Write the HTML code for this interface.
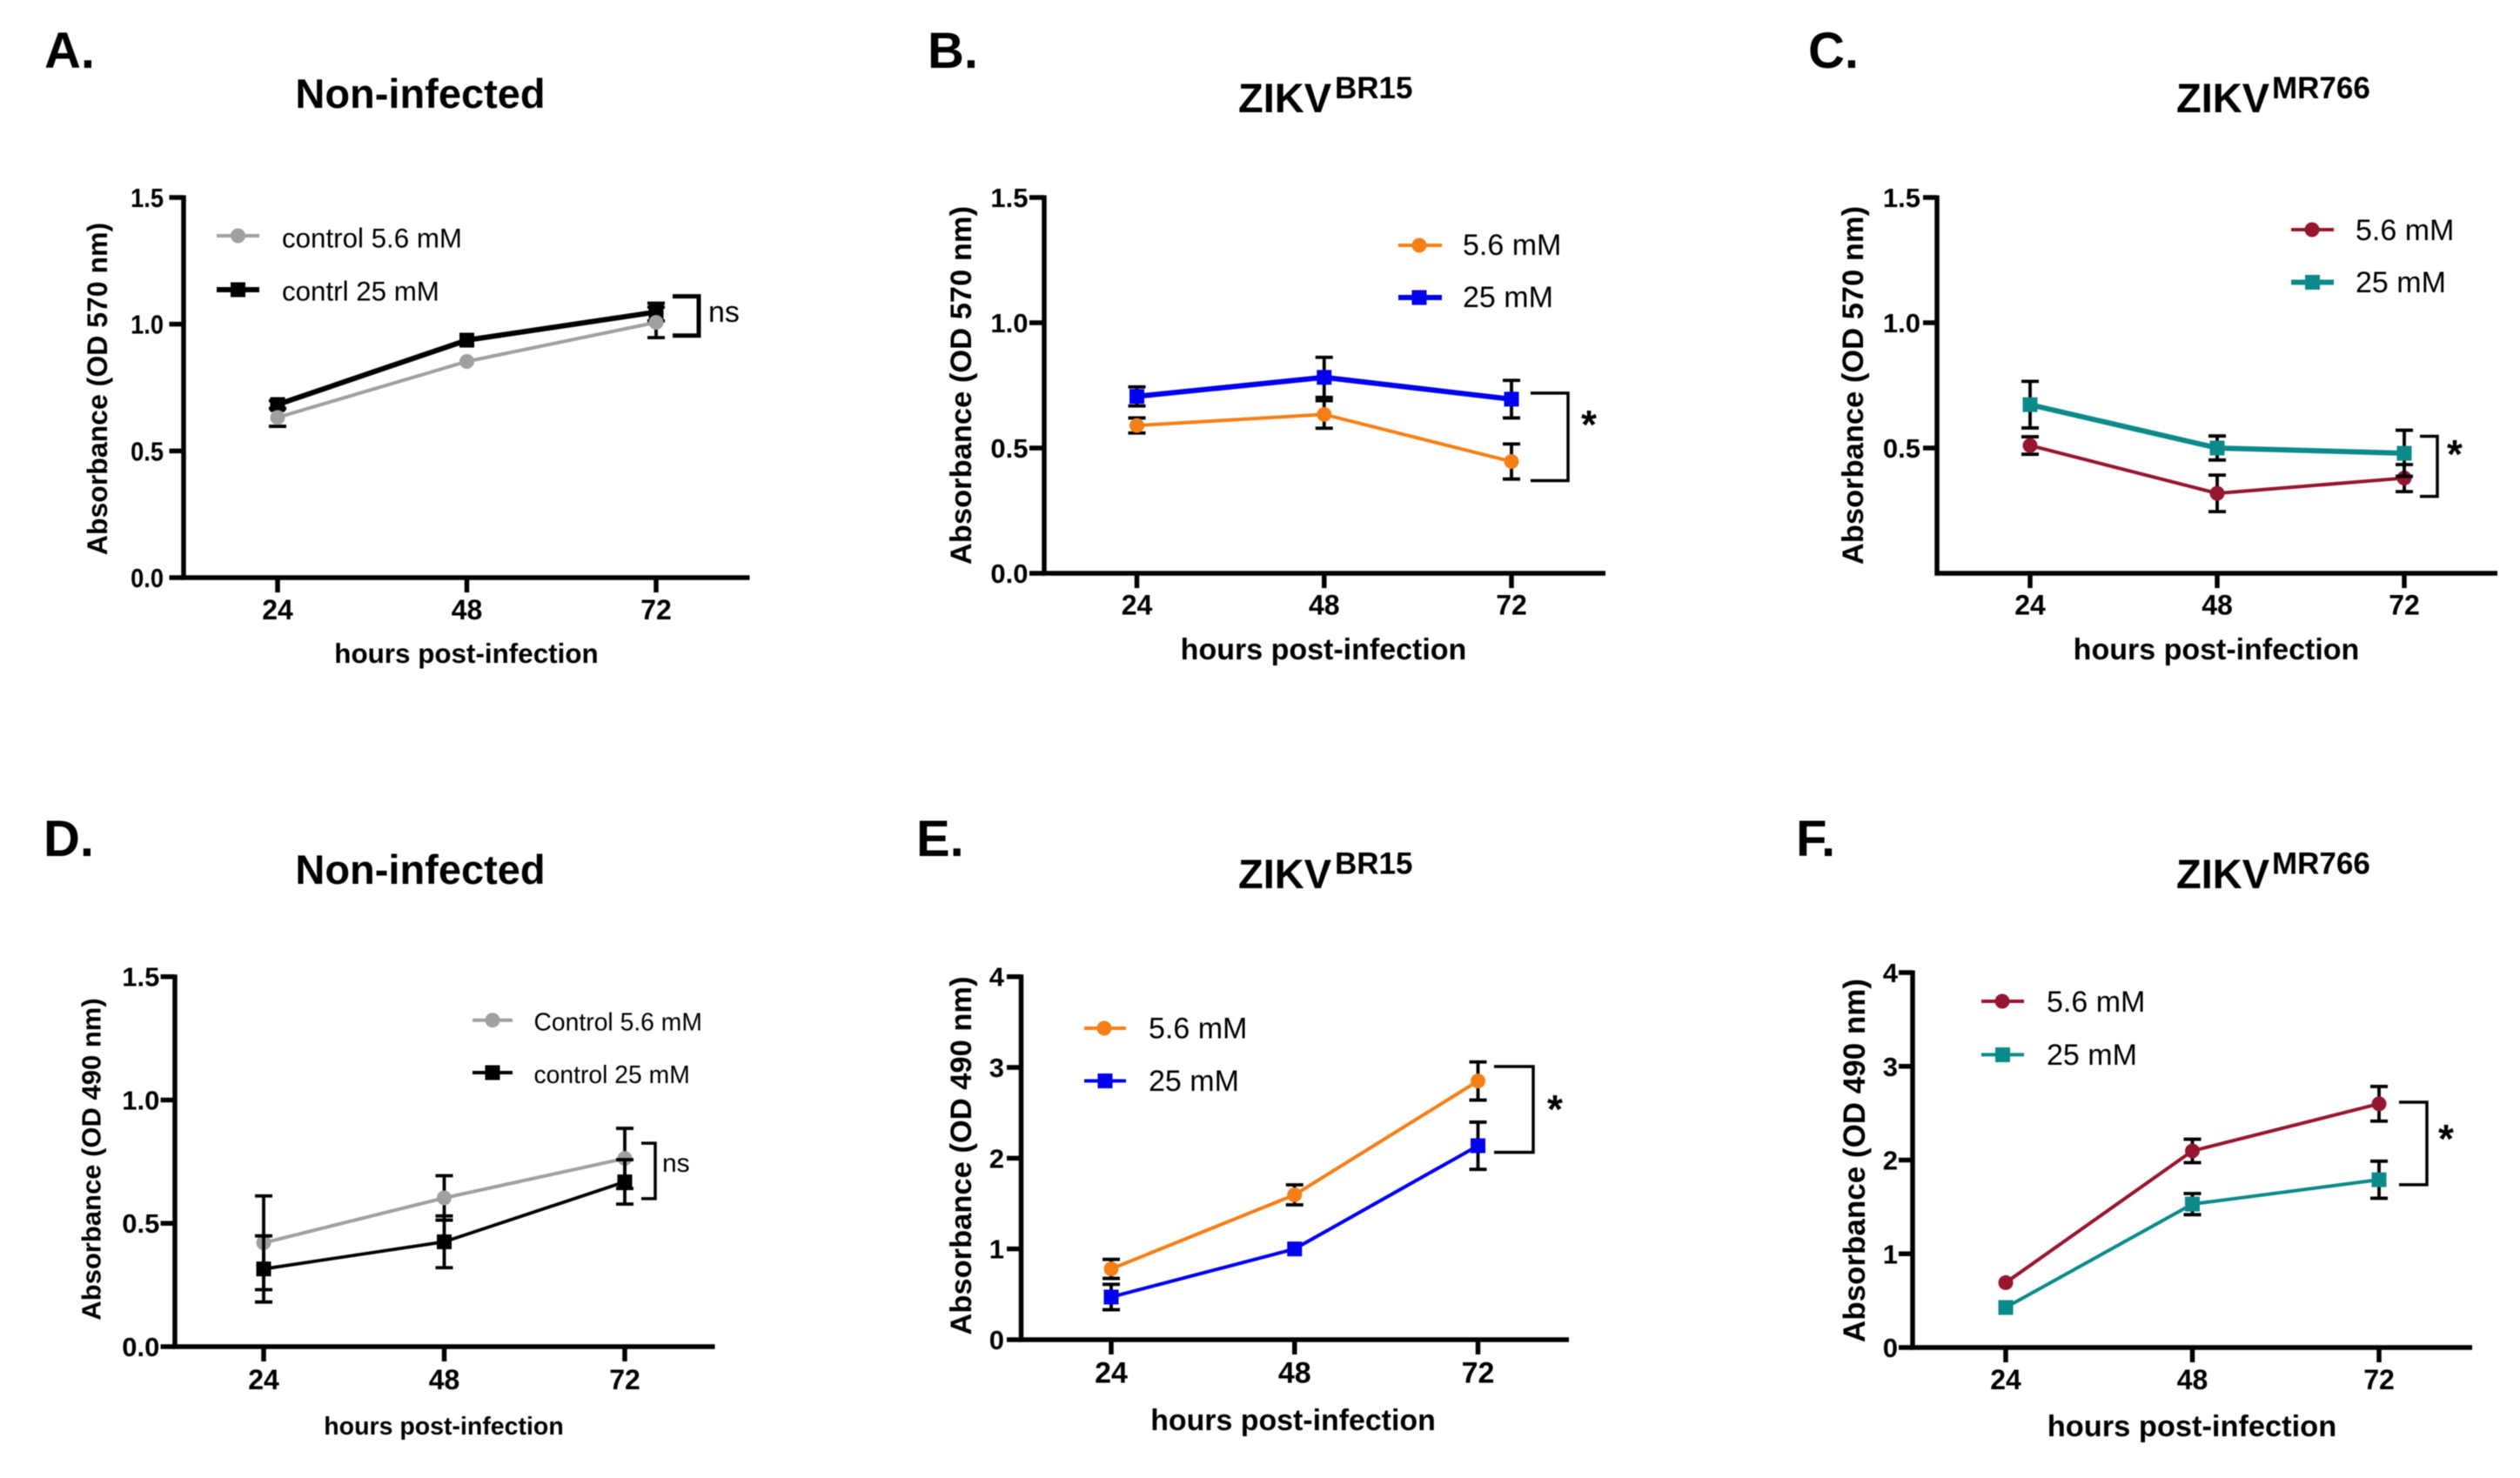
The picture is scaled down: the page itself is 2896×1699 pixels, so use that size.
<!DOCTYPE html>
<html lang="en">
<head>
<meta charset="utf-8">
<title>Absorbance panels A-F</title>
<style>
  html, body { margin: 0; padding: 0; background: #fff; }
  svg { display: block; filter: blur(0.6px); }
  svg text { font-family: "Liberation Sans", sans-serif; fill: #000; }
  .b { font-weight: 700; }
  .letter { font-size: 58px; font-weight: 700; }
  .title { font-size: 47px; font-weight: 700; }
  .sup { font-size: 35px; font-weight: 700; }
  .leg { font-size: 34px; }
  .star { font-size: 46px; font-weight: 700; text-anchor: middle; }
</style>
</head>
<body>
<svg id="figure" xmlns="http://www.w3.org/2000/svg" width="2896" height="1699" viewBox="0 0 2896 1699">
  <rect width="2896" height="1699" fill="#fff"/>

  <!-- Panel A -->
  <g id="panel-a">
    <text class="letter" x="51" y="78">A.</text>
    <text class="title" x="483" y="124" text-anchor="middle">Non-infected</text>
    <text class="b" font-size="32" text-anchor="middle" transform="translate(123,447) rotate(-90)">Absorbance (OD 570 nm)</text>
    <text class="b" font-size="31.4" x="536" y="762" text-anchor="middle">hours post-infection</text>
    <g>
      <line x1="249" x2="298" y1="271" y2="271" stroke="#a0a0a0" stroke-width="4"/>
      <circle cx="273.5" cy="271" r="8.5" fill="#a0a0a0"/>
      <text font-size="31.3" x="324" y="284.5">control 5.6 mM</text>
      <line x1="249" x2="298" y1="333" y2="333" stroke="#000" stroke-width="6"/>
      <rect x="265" y="324.5" width="17" height="17" fill="#000"/>
      <text font-size="31.3" x="324" y="345.5">contrl 25 mM</text>
    </g>
    <text font-size="34" x="814" y="370">ns</text>
  </g>

  <!-- Panel B -->
  <g id="panel-b">
    <text class="letter" x="1066" y="78">B.</text>
    <text class="title" x="1423" y="129">ZIKV</text>
    <text class="sup" x="1534" y="113">BR15</text>
    <text class="b" font-size="34.5" text-anchor="middle" transform="translate(1116,443) rotate(-90)">Absorbance (OD 570 nm)</text>
    <text class="b" font-size="34" x="1521" y="758" text-anchor="middle">hours post-infection</text>
    <g>
      <line x1="1607" x2="1657" y1="282" y2="282" stroke="#f57f17" stroke-width="4"/>
      <circle cx="1631" cy="282" r="8.5" fill="#f57f17"/>
      <text class="leg" x="1681" y="293">5.6 mM</text>
      <line x1="1607" x2="1657" y1="342" y2="342" stroke="#0000f0" stroke-width="6"/>
      <rect x="1622.5" y="333.5" width="17" height="17" fill="#0000f0"/>
      <text class="leg" x="1681" y="353">25 mM</text>
    </g>
    <text class="star" x="1826" y="504">*</text>
  </g>

  <!-- Panel C -->
  <g id="panel-c">
    <text class="letter" x="2078" y="78">C.</text>
    <text class="title" x="2501" y="129">ZIKV</text>
    <text class="sup" x="2611" y="113">MR766</text>
    <text class="b" font-size="34.5" text-anchor="middle" transform="translate(2141,443) rotate(-90)">Absorbance (OD 570 nm)</text>
    <text class="b" font-size="34" x="2547" y="758" text-anchor="middle">hours post-infection</text>
    <g>
      <line x1="2633" x2="2682" y1="264" y2="264" stroke="#96152f" stroke-width="4"/>
      <circle cx="2657" cy="264" r="8.5" fill="#96152f"/>
      <text class="leg" x="2707" y="276">5.6 mM</text>
      <line x1="2633" x2="2682" y1="324.5" y2="324.5" stroke="#0c8a8a" stroke-width="6"/>
      <rect x="2649" y="316" width="17" height="17" fill="#0c8a8a"/>
      <text class="leg" x="2707" y="336">25 mM</text>
    </g>
    <text class="star" x="2821" y="538">*</text>
  </g>

  <!-- Panel D -->
  <g id="panel-d">
    <text class="letter" x="50" y="984">D.</text>
    <text class="title" x="483" y="1016" text-anchor="middle">Non-infected</text>
    <text class="b" font-size="31" text-anchor="middle" transform="translate(115.7,1332.5) rotate(-90)">Absorbance (OD 490 nm)</text>
    <text class="b" font-size="28.5" x="510" y="1649" text-anchor="middle">hours post-infection</text>
    <g>
      <line x1="543" x2="589" y1="1172.7" y2="1172.7" stroke="#a0a0a0" stroke-width="4"/>
      <circle cx="566" cy="1172.7" r="8.5" fill="#a0a0a0"/>
      <text font-size="28.3" x="613.5" y="1184.5">Control 5.6 mM</text>
      <line x1="543" x2="589" y1="1233" y2="1233" stroke="#000" stroke-width="4"/>
      <rect x="557.5" y="1224.5" width="17" height="17" fill="#000"/>
      <text font-size="28.3" x="613.5" y="1245">control 25 mM</text>
    </g>
    <text font-size="30" x="761" y="1347">ns</text>
  </g>

  <!-- Panel E -->
  <g id="panel-e">
    <text class="letter" x="1053" y="984">E.</text>
    <text class="title" x="1423" y="1021">ZIKV</text>
    <text class="sup" x="1534" y="1004.5">BR15</text>
    <text class="b" font-size="34.5" text-anchor="middle" transform="translate(1116,1328.5) rotate(-90)">Absorbance (OD 490 nm)</text>
    <text class="b" font-size="33.9" x="1486" y="1644" text-anchor="middle">hours post-infection</text>
    <g>
      <line x1="1246" x2="1294" y1="1182" y2="1182" stroke="#f57f17" stroke-width="4"/>
      <circle cx="1269" cy="1182" r="8.5" fill="#f57f17"/>
      <text class="leg" x="1320" y="1193.5">5.6 mM</text>
      <line x1="1246" x2="1294" y1="1242.5" y2="1242.5" stroke="#0000f0" stroke-width="4"/>
      <rect x="1261.5" y="1234" width="17" height="17" fill="#0000f0"/>
      <text class="leg" x="1320" y="1254">25 mM</text>
    </g>
    <text class="star" x="1787" y="1291">*</text>
  </g>

  <!-- Panel F -->
  <g id="panel-f">
    <text class="letter" x="2064" y="984">F.</text>
    <text class="title" x="2501" y="1021">ZIKV</text>
    <text class="sup" x="2611" y="1004.5">MR766</text>
    <text class="b" font-size="35" text-anchor="middle" transform="translate(2143,1334) rotate(-90)">Absorbance (OD 490 nm)</text>
    <text class="b" font-size="34.4" x="2519" y="1651" text-anchor="middle">hours post-infection</text>
    <g>
      <line x1="2277" x2="2326" y1="1151" y2="1151" stroke="#96152f" stroke-width="4"/>
      <circle cx="2301" cy="1151" r="8.5" fill="#96152f"/>
      <text class="leg" x="2352" y="1163">5.6 mM</text>
      <line x1="2277" x2="2326" y1="1212.4" y2="1212.4" stroke="#0c8a8a" stroke-width="4"/>
      <rect x="2293" y="1204" width="17" height="17" fill="#0c8a8a"/>
      <text class="leg" x="2352" y="1224">25 mM</text>
    </g>
    <text class="star" x="2811" y="1325">*</text>
  </g>
</svg>

<script>
// ---- Data ----
const hours = [24, 48, 72];

const ticks15 = [0, 0.5, 1, 1.5];
const ticks15Labels = ['0.0', '0.5', '1.0', '1.5'];
const ticksC = [0.5, 1, 1.5];
const ticksCLabels = ['0.5', '1.0', '1.5'];
const ticks4 = [0, 1, 2, 3, 4];
const ticks4Labels = ['0', '1', '2', '3', '4'];

const aControl25 = [0.683, 0.937, 1.048];
const aControl25Err = [0.015, 0, 0.035];
const aControl56 = [0.632, 0.853, 1.007];
const aControl56Err = [0.035, 0, 0.06];
const aBracket = [1.11, 0.955];

const bLow = [0.59, 0.634, 0.446];
const bLowErr = [0.03, 0.055, 0.07];
const bHigh = [0.706, 0.782, 0.695];
const bHighErr = [0.038, 0.08, 0.075];
const bBracket = [0.719, 0.37];

const cLow = [0.51, 0.319, 0.38];
const cLowErr = [0.035, 0.073, 0.054];
const cHigh = [0.673, 0.5, 0.479];
const cHighErr = [0.093, 0.048, 0.092];
const cBracket = [0.547, 0.307];

const dControl56 = [0.421, 0.603, 0.763];
const dControl56Err = [0.19, 0.09, 0.122];
const dControl25 = [0.315, 0.425, 0.668];
const dControl25Err = [0.134, 0.105, 0.09];
const dBracket = [0.825, 0.6];

const eLow = [0.78, 1.596, 2.85];
const eLowErr = [0.105, 0.11, 0.21];
const eHigh = [0.47, 1.0, 2.137];
const eHighErr = [0.14, 0, 0.26];
const eBracket = [3.01, 2.065];

const fLow = [0.692, 2.097, 2.6];
const fLowErr = [0, 0.125, 0.185];
const fHigh = [0.427, 1.53, 1.79];
const fHighErr = [0, 0.113, 0.198];
const fBracket = [2.617, 1.737];

// ---- Drawing ----
const NS = 'http://www.w3.org/2000/svg';
const GRAY = '#a0a0a0', BLACK = '#000000', ORANGE = '#f57f17', BLUE = '#0000f0', CRIMSON = '#96152f', TEAL = '#0c8a8a';

function make(tag, parent, attrs) {
  const node = document.createElementNS(NS, tag);
  for (const k in attrs) node.setAttribute(k, attrs[k]);
  parent.appendChild(node);
  return node;
}

function drawPanel(id, frame, tickValues, tickLabels, seriesList, bracket) {
  const panel = document.getElementById('panel-' + id);
  const unit = (frame.y0 - frame.yTop) / frame.yMax;
  const yScale = function (v) { return frame.y0 - v * unit; };
  const xScale = function (h) { return frame.x24 + (h - 24) * (frame.x72 - frame.x24) / 48; };

  // axes
  const axes = make('g', panel, {});
  
  

  const yAxis = make('line', axes, { x1: frame.axisX, x2: frame.axisX, y1: frame.yTop - 2.5, y2: frame.y0 + 2.5, stroke: '#000', 'stroke-width': frame.axisW });
  
  

  const xAxis = make('line', axes, { x1: frame.axisX - 2.5, x2: frame.axisEnd, y1: frame.y0, y2: frame.y0, stroke: '#000', 'stroke-width': frame.axisW });
  
  

  tickValues.forEach(function (v, i) {
    const tick = make('line', axes, { x1: frame.tickLeft, x2: frame.axisX, y1: yScale(v), y2: yScale(v), stroke: '#000', 'stroke-width': frame.axisW });
    
    

    const label = make('text', axes, { x: frame.labelRight, y: yScale(v) + 11, 'text-anchor': 'end', 'font-size': 31, 'font-weight': 700 });
    label.textContent = tickLabels[i];
    
    
    if (frame.squeeze) {
      label.setAttribute('textLength', String(label.getComputedTextLength() * frame.squeeze));
      label.setAttribute('lengthAdjust', 'spacingAndGlyphs');
    }
  });

  hours.forEach(function (h) {
    const tick = make('line', axes, { x1: xScale(h), x2: xScale(h), y1: frame.y0, y2: frame.y0 + 17, stroke: '#000', 'stroke-width': frame.axisW });
    
    

    const label = make('text', axes, { x: xScale(h), y: frame.xLabelY, 'text-anchor': 'middle', 'font-size': frame.xFont, 'font-weight': 700 });
    label.textContent = String(h);
    
    
  });

  // series
  seriesList.forEach(function (s) {
    const group = make('g', panel, {});
    
    

    hours.forEach(function (h, i) {
      if (s.errors[i] <= 0) return;
      const x = xScale(h), hi = yScale(s.values[i] + s.errors[i]), lo = yScale(s.values[i] - s.errors[i]);
      const d = 'M' + (x - 10) + ' ' + hi + 'H' + (x + 10) + 'M' + x + ' ' + hi + 'V' + lo + 'M' + (x - 10) + ' ' + lo + 'H' + (x + 10);
      const err = make('path', group, { d: d, fill: 'none', stroke: '#000', 'stroke-width': 3.8 });
      
      
    });

    const pts = hours.map(function (h, i) { return xScale(h) + ',' + yScale(s.values[i]); }).join(' ');
    const line = make('polyline', group, { points: pts, fill: 'none', stroke: s.color, 'stroke-width': s.width, 'stroke-linejoin': 'round' });
    
    

    hours.forEach(function (h, i) {
      const x = xScale(h), y = yScale(s.values[i]);
      if (s.shape === 'circle') {
        const dot = make('circle', group, { cx: x, cy: y, r: 8.5, fill: s.color });
        
        
      } else {
        const sq = make('rect', group, { x: x - 8.5, y: y - 8.5, width: 17, height: 17, fill: s.color });
        
        
      }
    });
  });

  // significance bracket
  const by1 = yScale(bracket[0]), by2 = yScale(bracket[1]);
  const br = make('path', panel, { d: 'M' + frame.brL + ' ' + by1 + 'H' + frame.brR + 'V' + by2 + 'H' + frame.brL, fill: 'none', stroke: '#000', 'stroke-width': frame.brW });
  
  
}

drawPanel('a',
  { axisX: 211, axisEnd: 861.5, y0: 664, yTop: 227, yMax: 1.5, tickLeft: 194.5, labelRight: 188, squeeze: 0.88, x24: 319, x72: 754, xLabelY: 712, xFont: 32, axisW: 5.5, brL: 773, brR: 803, brW: 5 },
  ticks15, ticks15Labels,
  [
    { key: 'control-25-mm', values: aControl25, errors: aControl25Err, color: BLACK, width: 6, shape: 'square' },
    { key: 'control-5-6-mm', values: aControl56, errors: aControl56Err, color: GRAY, width: 4, shape: 'circle' }
  ], aBracket);

drawPanel('b',
  { axisX: 1200, axisEnd: 1845, y0: 659, yTop: 227, yMax: 1.5, tickLeft: 1183, labelRight: 1181.5, x24: 1306.5, x72: 1737, xLabelY: 706.6, xFont: 32, axisW: 5.5, brL: 1759, brR: 1802, brW: 3.5 },
  ticks15, ticks15Labels,
  [
    { key: '5-6-mm', values: bLow, errors: bLowErr, color: ORANGE, width: 4, shape: 'circle' },
    { key: '25-mm', values: bHigh, errors: bHighErr, color: BLUE, width: 6, shape: 'square' }
  ], bBracket);

drawPanel('c',
  { axisX: 2226, axisEnd: 2870, y0: 659, yTop: 227, yMax: 1.5, tickLeft: 2210, labelRight: 2207, x24: 2333, x72: 2763, xLabelY: 706.6, xFont: 32, axisW: 5.5, brL: 2781, brR: 2801, brW: 3.5 },
  ticksC, ticksCLabels,
  [
    { key: '5-6-mm', values: cLow, errors: cLowErr, color: CRIMSON, width: 4, shape: 'circle' },
    { key: '25-mm', values: cHigh, errors: cHighErr, color: TEAL, width: 6, shape: 'square' }
  ], cBracket);

drawPanel('d',
  { axisX: 201, axisEnd: 821.5, y0: 1548, yTop: 1122.7, yMax: 1.5, tickLeft: 184.6, labelRight: 183.4, x24: 303, x72: 718, xLabelY: 1597, xFont: 32, axisW: 5.5, brL: 737, brR: 753, brW: 3.5 },
  ticks15, ticks15Labels,
  [
    { key: 'control-5-6-mm', values: dControl56, errors: dControl56Err, color: GRAY, width: 4, shape: 'circle' },
    { key: 'control-25-mm', values: dControl25, errors: dControl25Err, color: BLACK, width: 3.8, shape: 'square' }
  ], dBracket);

drawPanel('e',
  { axisX: 1173.5, axisEnd: 1803, y0: 1540, yTop: 1122.7, yMax: 4, tickLeft: 1157, labelRight: 1154, x24: 1277, x72: 1698.5, xLabelY: 1589.6, xFont: 34, axisW: 5.5, brL: 1717, brR: 1762, brW: 3.5 },
  ticks4, ticks4Labels,
  [
    { key: '5-6-mm', values: eLow, errors: eLowErr, color: ORANGE, width: 4, shape: 'circle' },
    { key: '25-mm', values: eHigh, errors: eHighErr, color: BLUE, width: 4, shape: 'square' }
  ], eBracket);

drawPanel('f',
  { axisX: 2198, axisEnd: 2841, y0: 1549, yTop: 1118, yMax: 4, tickLeft: 2182, labelRight: 2181, x24: 2305, x72: 2734, xLabelY: 1597, xFont: 32, axisW: 5.5, brL: 2757, brR: 2789, brW: 3.5 },
  ticks4, ticks4Labels,
  [
    { key: '5-6-mm', values: fLow, errors: fLowErr, color: CRIMSON, width: 4, shape: 'circle' },
    { key: '25-mm', values: fHigh, errors: fHighErr, color: TEAL, width: 4, shape: 'square' }
  ], fBracket);
</script>
</body>
</html>
